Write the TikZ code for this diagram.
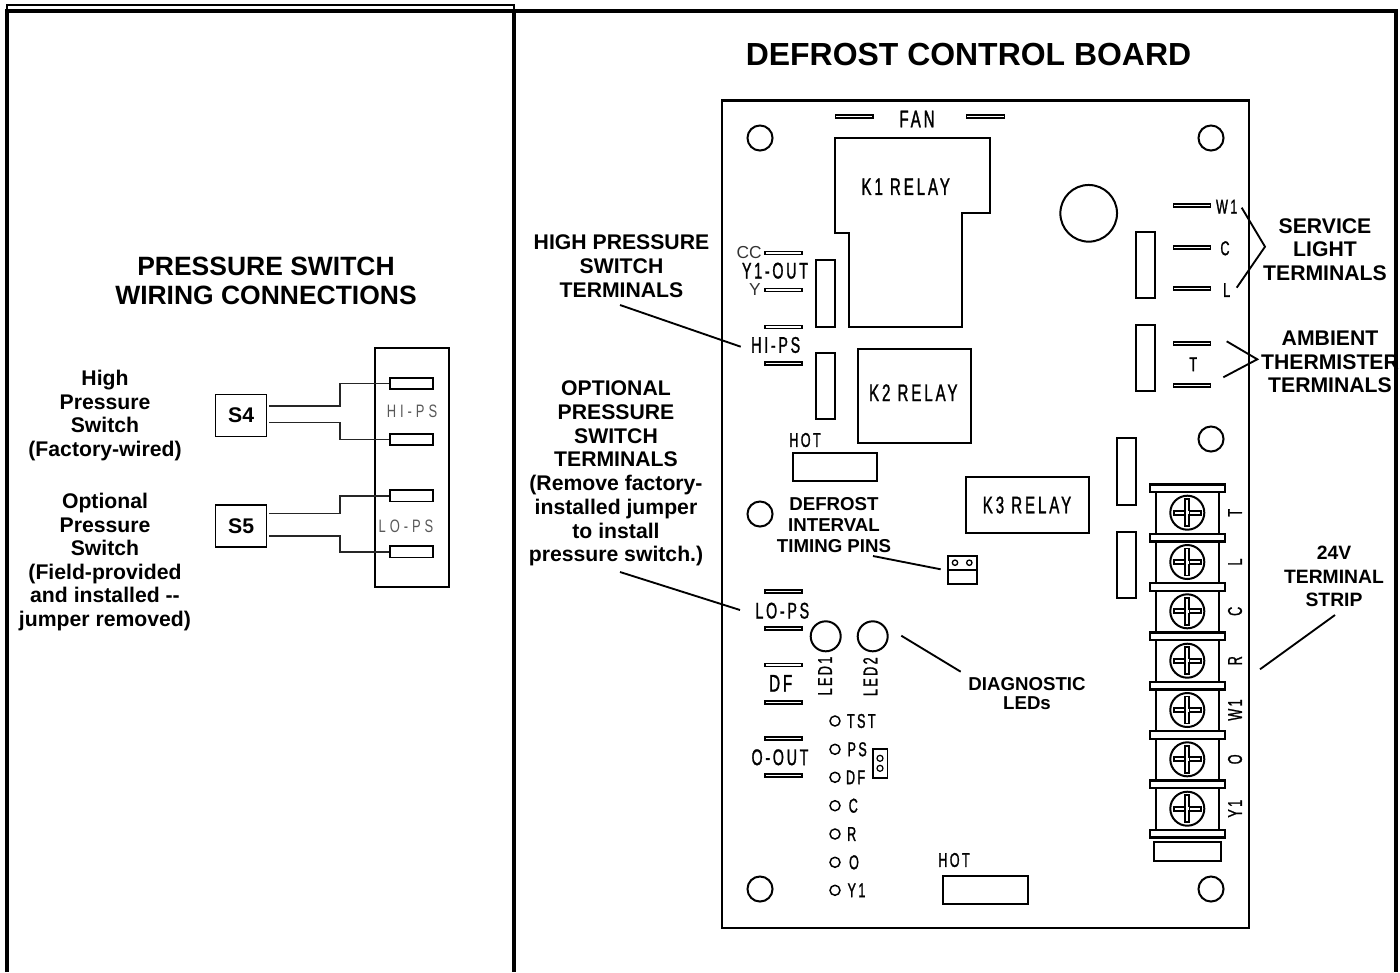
\documentclass[tikz,border=0pt]{standalone}
\usepackage{fontspec}
\setmainfont{Liberation Sans}
\newfontfamily\cadfont[FakeStretch=0.63,LetterSpace=12,FakeBold=1.2]{Liberation Sans}
\newfontfamily\cadthin[FakeStretch=0.72,LetterSpace=22]{Liberation Sans}
\usetikzlibrary{calc}
\tikzset{
  frameline/.style={draw=black,line width=2.7pt},
  thinframe/.style={draw=black,line width=1.1pt},
  partline/.style={draw=black,line width=1.5pt},
  leader/.style={draw=black,line width=1.4pt},
  wire/.style={draw=black!85,line width=1.2pt},
  title/.style={font=\bfseries\fontsize{23.95}{28}\selectfont,inner sep=0pt},
  subtitle/.style={font=\bfseries\fontsize{19.85}{21.8}\selectfont,align=center,inner sep=0pt},
  callout/.style={font=\bfseries\fontsize{15.9}{17.8}\selectfont,align=center,inner sep=0pt},
  calloutsm/.style={font=\bfseries\fontsize{14}{15.6}\selectfont,align=center,inner sep=0pt},
  cad/.style={font=\cadfont\fontsize{18}{20}\selectfont,inner sep=0pt},
  cadmd/.style={font=\cadfont\fontsize{17}{20}\selectfont,inner sep=0pt},
  cadsm/.style={font=\cadfont\fontsize{15}{18}\selectfont,inner sep=0pt},
  cadgray/.style={font=\cadthin\fontsize{13.5}{16}\selectfont,inner sep=0pt,text=black!65},
  plain/.style={font=\fontsize{13}{15}\selectfont,inner sep=0pt,text=black!80},
  spade/.style={draw=black,line width=1.3pt,fill=white},
  pin/.style={draw=black,line width=1.1pt,fill=white,inner sep=0pt,circle,minimum size=7.5pt},
  hole/.style={draw=black,line width=1.5pt,fill=white,inner sep=0pt,circle,minimum size=18.8pt},
  switchbox/.style={draw=black,line width=1.1pt,font=\bfseries\fontsize{15.9}{18}\selectfont,minimum width=38.2pt,minimum height=31.8pt,inner sep=0pt},
  bigcircle/.style={circle,draw=black,line width=1.5pt,inner sep=0pt}
}
\newcommand{\spadeH}[3]{\draw[spade] (#1,#3-1.5) rectangle (#2,#3+1.5);}
\begin{document}
\begin{tikzpicture}[x=0.75pt,y=-0.75pt]
\useasboundingbox (0,0) rectangle (1400,972);
% frames
\draw[thinframe] (7,12) -- (7,5) -- (514,5) -- (514,12);
\draw[frameline] (7,972) -- (7,11) -- (1396,11) -- (1396,972);
\draw[frameline] (514,11) -- (514,972);
% titles
\node[title] (tboard) at (968.5,55) {DEFROST CONTROL BOARD};
\node[subtitle] (tpress) at (266,281) {PRESSURE SWITCH\\WIRING CONNECTIONS};
% left panel
\node[callout,font=\bfseries\fontsize{15.9}{17.7}\selectfont] (thigh) at (105,415.5) {High\\Pressure\\Switch\\(Factory-wired)};
\node[callout,font=\bfseries\fontsize{15.9}{17.7}\selectfont] (topt) at (105,562) {Optional\\Pressure\\Switch\\(Field-provided\\and installed -{}-\\jumper removed)};
\node[switchbox] (s4) at (241.2,415.5) {S4};
\node[switchbox] (s5) at (241.2,526) {S5};
\draw[partline] (374.7,347.7) rectangle (448.7,587);
\foreach \n/\y in {ta/383.3,tb/439.3,tc/495.8,td/551.8}{
  \node[draw=black,line width=1.2pt,fill=white,minimum width=32.2pt,minimum height=8.4pt,inner sep=0pt] (\n) at (411.5,\y) {};
}
\node[cadgray] (lhi) at (412,411.7) {HI-PS};
\node[cadgray] (llo) at (406,526.7) {LO-PS};
\coordinate (w1) at (269,405.7);
\coordinate (w2) at (269,422.3);
\coordinate (w3) at (269,513.3);
\coordinate (w4) at (269,536);
\draw[wire] (w1) -- (340,405.7) -- (340,383.3) -- (ta.west);
\draw[wire] (w2) -- (340,422.3) -- (340,439.3) -- (tb.west);
\draw[wire] (w3) -- (340,513.3) -- (340,495.8) -- (tc.west);
\draw[wire] (w4) -- (340,536) -- (340,551.8) -- (td.west);
% board
\draw[partline,line width=1.9pt] (722,100.5) rectangle (1249,928);
\foreach \n/\x/\y in {h1/760/138,h2/1211/138,h3/1211/439,h4/760/514,h5/760/889,h6/1211/889}{
  \node[hole] (\n) at (\x,\y) {};
}
\node[bigcircle,minimum size=42.5pt] (big) at (1088.7,213.3) {};
% relays
\draw[partline] (835,138.3) -- (990,138.3) -- (990,213.3) -- (961.7,213.3) -- (961.7,326.7) -- (848.7,326.7) -- (848.7,232.7) -- (835,232.7) -- cycle;
\node[cad] (k1) at (905.7,186.7) {K1 RELAY};
\node[draw=black,line width=1.5pt,minimum width=84.5pt,minimum height=70.5pt,inner sep=0pt] (k2) at (914.3,395.7) {};
\node[cad] at (913.3,392.7) {K2 RELAY};
\node[draw=black,line width=1.5pt,minimum width=92pt,minimum height=42.5pt,inner sep=0pt] (k3) at (1027.8,505) {};
\node[cad] at (1027,505) {K3 RELAY};
% narrow blocks
\foreach \xa/\ya/\xb/\yb in {816.3/260/835.3/326.7,816.3/352.7/835.3/419.3,1136/232/1155/298.3,1136/325/1155/391,1116.7/438/1136/505,1116.7/531.7/1136/598,793/453/877.3/481.3,943/875.7/1028/904,1154.3/842.3/1220.7/861}{
  \draw[partline] (\xa,\ya) rectangle (\xb,\yb);
}
% spade terminals
\spadeH{835.5}{873}{116.8}\spadeH{966.5}{1004.5}{116.8}
\spadeH{765}{802}{253}\spadeH{765}{802}{290}\spadeH{765}{802}{327}\spadeH{765}{802}{363.7}
\spadeH{765}{802}{591.5}\spadeH{765}{802}{628.2}\spadeH{765}{802}{665}\spadeH{765}{802}{702.2}\spadeH{765}{802}{738.5}\spadeH{765}{802}{775.2}
\spadeH{1173.5}{1210.5}{205.8}\spadeH{1173.5}{1210.5}{247.5}\spadeH{1173.5}{1210.5}{288.5}\spadeH{1173.5}{1210.5}{343.7}\spadeH{1173.5}{1210.5}{385.8}
% board labels
\node[cad] (fan) at (917,119) {FAN};
\node[plain,anchor=east] at (762,252.7) {CC};
\node[cadmd] at (775,270.7) {Y1-OUT};
\node[plain,anchor=east] at (761,290) {Y};
\node[cadmd] (hips) at (775.7,345) {HI-PS};
\node[cadmd] (lops) at (782.3,610.7) {LO-PS};
\node[cad] (df) at (780.7,683.3) {DF};
\node[cadmd] (oout) at (780,757.3) {O-OUT};
\node[cadsm] at (805,440) {HOT};
\node[cadsm] at (954,860) {HOT};
\node[cadsm] at (1226.7,206.7) {W1};
\node[cadsm] at (1225,248.3) {C};
\node[cadsm] at (1226.7,290) {L};
\node[cadsm] at (1193.3,364.3) {T};
% LEDs
\node[bigcircle,minimum size=22.5pt] (led1) at (825.7,636.3) {};
\node[bigcircle,minimum size=22.5pt] (led2) at (872.7,636.3) {};
\node[cadsm,rotate=90] at (825,676) {LED1};
\node[cadsm,rotate=90] at (870.3,676.7) {LED2};
% test pins
\foreach \n/\y in {p1/721,p2/749.3,p3/777.3,p4/805.7,p5/834,p6/862.3,p7/890.3}{
  \node[pin] (\n) at (835,\y) {};
}
\node[cadsm,anchor=west] at (846.7,721) {TST};
\node[cadsm,anchor=west] at (847.3,749.3) {PS};
\node[cadsm,anchor=west] at (845.7,777.3) {DF};
\node[cadsm] at (853.3,805.7) {C};
\node[cadsm] at (851.7,834) {R};
\node[cadsm] at (854,862.3) {O};
\node[cadsm,anchor=west] at (847.3,890.3) {Y1};
% jumpers
\draw[partline,line width=1.2pt] (872.7,748.7) rectangle (887.3,777.7);
\node[pin,minimum size=4.5pt,line width=0.9pt] at (880,758.3) {};
\node[pin,minimum size=4.5pt,line width=0.9pt] at (880,768.3) {};
\node[draw=black,line width=1.3pt,minimum width=21.7pt,minimum height=21.4pt,inner sep=0pt] (jp) at (962.2,570) {};
\draw[line width=1.1pt] (jp.west) -- (jp.east);
\node[pin,minimum size=4pt,line width=1pt] at (955,562.7) {};
\node[pin,minimum size=4pt,line width=1pt] at (969.3,562.7) {};
% terminal strip
\draw[partline] (1156,488) rectangle (1219,834);
\foreach \n/\y in {a/488.3,b/537.7,c/587,d/636.3,e/685.7,f/735,g/784.3,h/833.7}{
  \draw[partline,line width=1.7pt,fill=white] (1150,\y-3.7) rectangle (1225.3,\y+3.7);
}
\foreach \n/\y/\t in {a/512.7/T,b/562/L,c/611.3/C,d/660.7/R,e/710/W1,f/759.3/O,g/808.7/Y1}{
  \node[bigcircle,minimum size=25.5pt] (sc\n) at (1187.3,\y) {};
  \draw[draw=black,line width=1.3pt,fill=white] (1173.9,\y-2) rectangle (1200.7,\y+2);
  \draw[draw=black,line width=1.3pt,fill=white] (1185.3,\y-13.4) rectangle (1189.3,\y+13.4);
  \fill[white] (1185.8,\y-1.5) rectangle (1188.8,\y+1.5);
  \node[cadsm,rotate=90] at (1235,\y) {\t};
}
% callouts
\node[callout] (chi) at (621.5,266) {HIGH PRESSURE\\SWITCH\\TERMINALS};
\node[callout] (cop) at (616,473.5) {OPTIONAL\\PRESSURE\\SWITCH\\TERMINALS\\(Remove factory-\\installed jumper\\to install\\pressure switch.)};
\node[callout] (csv) at (1325,249.5) {SERVICE\\LIGHT\\TERMINALS};
\node[callout] (cam) at (1330,362) {AMBIENT\\THERMISTER\\TERMINALS};
\node[calloutsm,font=\bfseries\fontsize{14}{15.7}\selectfont] (cdf) at (834,525) {DEFROST\\INTERVAL\\TIMING PINS};
\node[calloutsm,font=\bfseries\fontsize{14}{14.5}\selectfont] (cdi) at (1027,693.5) {DIAGNOSTIC\\LEDs};
\node[calloutsm,font=\bfseries\fontsize{14.5}{17.5}\selectfont] (c24) at (1334,576.5) {24V\\TERMINAL\\STRIP};
% leaders
\coordinate (lh) at (620,305);
\coordinate (lhe) at (740.7,346.7);
\draw[leader] (lh) -- (lhe);
\coordinate (lo) at (620,572);
\coordinate (loe) at (740,610);
\draw[leader] (lo) -- (loe);
\coordinate (ld) at (873,556);
\coordinate (lde) at (940.7,569.3);
\draw[leader] (ld) -- (lde);
\coordinate (dl) at (901.3,635.7);
\coordinate (dle) at (960.7,671.7);
\draw[leader] (dl) -- (dle);
\coordinate (ts) at (1260,669.3);
\coordinate (tse) at (1335,615);
\draw[leader] (ts) -- (tse);
\coordinate (sa) at (1241.7,207.7);
\coordinate (sb) at (1265,246.7);
\coordinate (sc) at (1236.7,287.7);
\draw[leader] (sa) -- (sb) -- (sc);
\coordinate (ta1) at (1226.7,341.3);
\coordinate (ta2) at (1257.3,359.3);
\coordinate (ta3) at (1223.3,377.3);
\draw[leader] (ta1) -- (ta2) -- (ta3);
\end{tikzpicture}
\end{document}
